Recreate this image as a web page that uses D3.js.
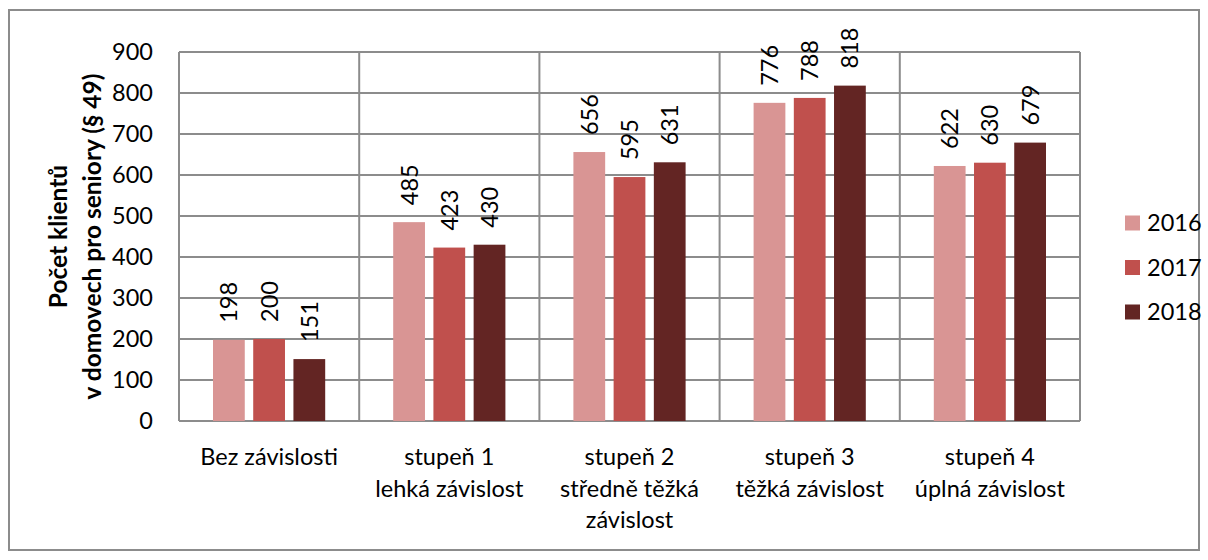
<!DOCTYPE html>
<html>
<head>
<meta charset="utf-8">
<script src="https://cdn.jsdelivr.net/npm/d3@7"></script>
<style>
    html, body { margin: 0; padding: 0; background: #fff; }
    text { font-family: Lato, Carlito, Calibri, sans-serif; fill: #000; }
</style>
</head>
<body>
<svg id="app"></svg>
<script>
const categories = [
    ["Bez závislosti"],
    ["stupeň 1", "lehká závislost"],
    ["stupeň 2", "středně těžká", "závislost"],
    ["stupeň 3", "těžká závislost"],
    ["stupeň 4", "úplná závislost"]
];
const years = ["2016", "2017", "2018"];
const values2016 = [198, 485, 656, 776, 622];
const values2017 = [200, 423, 595, 788, 630];
const values2018 = [151, 430, 631, 818, 679];
const yTicks = [0, 100, 200, 300, 400, 500, 600, 700, 800, 900];

const colors = ["#d99594", "#c0504d", "#632523"];
const series = [values2016, values2017, values2018];

const width = 1208, height = 560;
const plot = {left: 179, right: 1080, top: 52, bottom: 421};
const gridColor = "#8c8c8c";
const fs = 23.5;

const svg = d3.select("#app")
    .attr("width", width)
    .attr("height", height);

// outer chart frame
svg.append("rect")
    .attr("x", 9).attr("y", 10)
    .attr("width", 1190).attr("height", 540)
    .attr("fill", "#fff")
    .attr("stroke", gridColor)
    .attr("stroke-width", 2);

const x0 = d3.scaleBand()
    .domain(d3.range(categories.length))
    .range([plot.left, plot.right])
    .padding(0);

const x1 = d3.scaleBand()
    .domain(years)
    .range([34, x0.bandwidth() - 34])
    .paddingInner(0.21);

const y = d3.scaleLinear()
    .domain([0, 900])
    .range([plot.bottom, plot.top]);

// horizontal gridlines
svg.append("g")
    .selectAll("line")
    .data(yTicks)
    .join("line")
    .attr("x1", plot.left).attr("x2", plot.right)
    .attr("y1", d => y(d)).attr("y2", d => y(d))
    .attr("stroke", gridColor)
    .attr("stroke-width", 2);

// vertical category separators
svg.append("g")
    .selectAll("line")
    .data(d3.range(categories.length + 1))
    .join("line")
    .attr("x1", d => plot.left + d * x0.bandwidth())
    .attr("x2", d => plot.left + d * x0.bandwidth())
    .attr("y1", plot.top).attr("y2", plot.bottom)
    .attr("stroke", gridColor)
    .attr("stroke-width", 2);

// y axis tick labels
svg.append("g")
    .selectAll("text")
    .data(yTicks)
    .join("text")
    .attr("x", 153)
    .attr("y", d => y(d))
    .attr("dy", "0.36em")
    .attr("text-anchor", "end")
    .attr("font-size", fs)
    .text(d => d);

// bars
const groups = svg.append("g")
    .selectAll("g")
    .data(categories)
    .join("g")
    .attr("transform", (d, i) => `translate(${x0(i)},0)`);

groups.each(function (cat, i) {
    const g = d3.select(this);
    years.forEach((yr, k) => {
        const v = series[k][i];
        g.append("rect")
            .attr("x", x1(yr))
            .attr("y", y(v))
            .attr("width", x1.bandwidth())
            .attr("height", y(0) - y(v))
            .attr("fill", colors[k]);

        const cx = x1(yr) + x1.bandwidth() / 2;
        const ty = y(v) - 17;
        g.append("text")
            .attr("transform", `translate(${cx + 8.5},${ty}) rotate(-90)`)
            .attr("font-size", fs)
            .attr("text-anchor", "start")
            .text(v);
    });

    // category labels
    const cx = x0.bandwidth() / 2;
    cat.forEach((line, j) => {
        g.append("text")
            .attr("x", cx)
            .attr("y", 457 + j * 31.5)
            .attr("dy", "0.36em")
            .attr("text-anchor", "middle")
            .attr("font-size", fs)
            .text(line);
    });
});

// y axis title
const yMid = (plot.top + plot.bottom) / 2;
[["Počet klientů", 58], ["v domovech pro seniory (§ 49)", 92]].forEach(([t, xx]) => {
    svg.append("text")
        .attr("transform", `translate(${xx},${yMid}) rotate(-90)`)
        .attr("dy", "0.36em")
        .attr("text-anchor", "middle")
        .attr("font-size", 24.5)
        .attr("font-weight", "bold")
        .text(t);
});

// legend
const legend = svg.append("g")
    .selectAll("g")
    .data(years)
    .join("g")
    .attr("transform", (d, i) => `translate(1125,${223 + i * 44.5})`);

legend.append("rect")
    .attr("x", 0).attr("y", -7.5)
    .attr("width", 15).attr("height", 15)
    .attr("fill", (d, i) => colors[i]);

legend.append("text")
    .attr("x", 22)
    .attr("dy", "0.36em")
    .attr("font-size", fs)
    .text(d => d);
</script>
</body>
</html>
